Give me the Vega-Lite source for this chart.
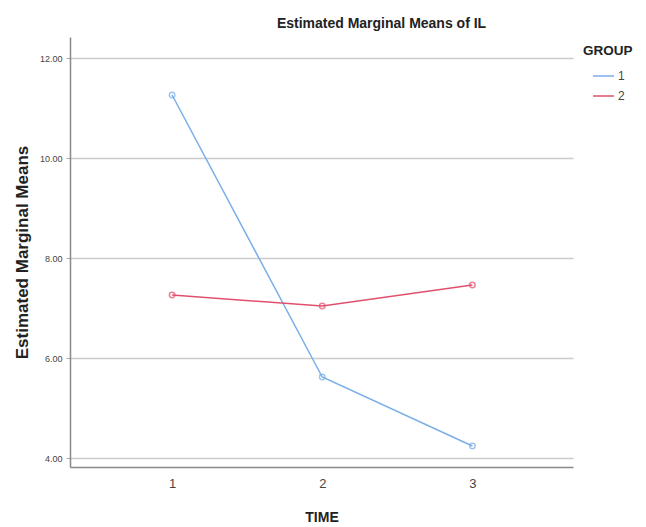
{
  "$schema": "https://vega.github.io/schema/vega-lite/v6.json",
  "width": 503,
  "height": 430,
  "autosize": {"type": "none"},
  "padding": {"left": 70, "top": 37, "right": 73, "bottom": 60},
  "background": "white",
  "title": {
    "text": "Estimated Marginal Means of IL",
    "font": "Liberation Sans",
    "fontSize": 14,
    "fontWeight": "bold",
    "color": "#222",
    "anchor": "middle",
    "frame": "group",
    "dx": 60,
    "offset": 6
  },
  "data": {
    "values": [
      {"TIME": 1, "GROUP": "1", "mean": 11.26},
      {"TIME": 2, "GROUP": "1", "mean": 5.62},
      {"TIME": 3, "GROUP": "1", "mean": 4.24},
      {"TIME": 1, "GROUP": "2", "mean": 7.26},
      {"TIME": 2, "GROUP": "2", "mean": 7.04},
      {"TIME": 3, "GROUP": "2", "mean": 7.46}
    ]
  },
  "config": {
    "view": {"stroke": null},
    "axis": {"labelFont": "Liberation Sans", "titleFont": "Liberation Sans"}
  },
  "encoding": {
    "x": {
      "field": "TIME",
      "type": "quantitative",
      "scale": {"domain": [0.32, 3.67], "nice": false, "zero": false},
      "axis": {
        "values": [1, 2, 3],
        "format": "d",
        "title": "TIME",
        "titleFontSize": 14,
        "titleFontWeight": "bold",
        "titleColor": "#222",
        "titlePadding": 20,
        "labelFontSize": 13,
        "labelColor": "#444",
        "labelPadding": 10,
        "ticks": false,
        "grid": false,
        "domainColor": "#888",
        "domainWidth": 1.5
      }
    },
    "y": {
      "field": "mean",
      "type": "quantitative",
      "scale": {"domain": [3.82, 12.42], "nice": false, "zero": false},
      "axis": {
        "values": [4, 6, 8, 10, 12],
        "format": ".2f",
        "title": "Estimated Marginal Means",
        "titleFontSize": 17,
        "titleFontWeight": "bold",
        "titleColor": "#222",
        "titlePadding": 8,
        "labelFontSize": 9,
        "labelColor": "#444",
        "labelPadding": 4,
        "tickSize": 4,
        "tickColor": "#aaa",
        "grid": true,
        "gridColor": "#cccccc",
        "gridWidth": 1.5,
        "domainColor": "#888",
        "domainWidth": 1.5
      }
    },
    "color": {
      "field": "GROUP",
      "type": "nominal",
      "scale": {"domain": ["1", "2"], "range": ["#7aaee8", "#e0506e"]},
      "legend": {
        "title": "GROUP",
        "titleFont": "Liberation Sans",
        "titleFontSize": 13.5,
        "titleFontWeight": "bold",
        "titleColor": "#222",
        "titlePadding": 7,
        "labelFont": "Liberation Sans",
        "labelFontSize": 12,
        "labelColor": "#444",
        "labelOffset": 3,
        "symbolType": "stroke",
        "symbolSize": 441,
        "symbolStrokeWidth": 1.5,
        "symbolOffset": 9,
        "rowPadding": 2,
        "orient": "none",
        "legendX": 513,
        "legendY": 7,
        "offset": 0
      }
    }
  },
  "layer": [
    {"mark": {"type": "line", "strokeWidth": 1.5}},
    {"mark": {"type": "point", "filled": false, "size": 30, "strokeWidth": 1.5}, "encoding": {"color": {"field": "GROUP", "type": "nominal", "legend": null}}}
  ]
}
